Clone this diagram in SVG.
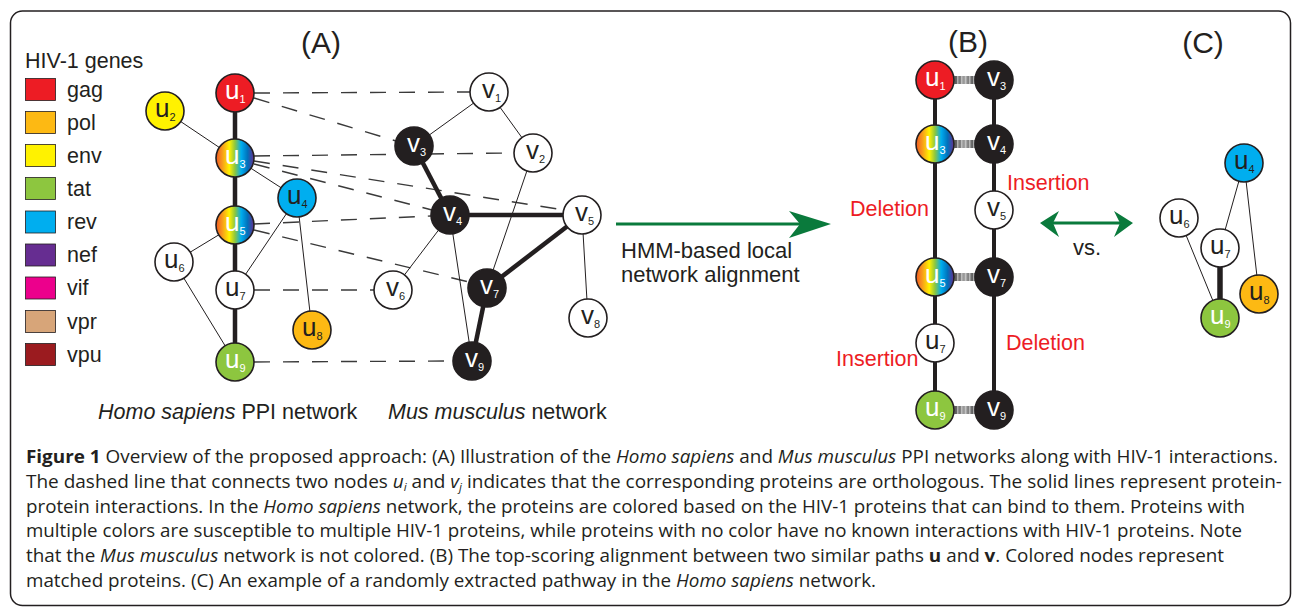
<svg xmlns="http://www.w3.org/2000/svg" width="1293" height="607" viewBox="0 0 1293 607">
<style>
.t{font-family:"Liberation Sans",Arial,Helvetica,sans-serif;fill:#231f20}
.f21{font-size:21.5px}
.red{fill:#ed1c24}
.n{stroke:#231f20;stroke-width:1.6}
.lbl{font-family:"Liberation Sans",Arial,Helvetica,sans-serif;font-size:26px}
.sub{font-size:11px}
.w{fill:#ffffff}
.k{fill:#231f20}
.thick{stroke:#231f20;stroke-width:4.5;fill:none}
.thin{stroke:#231f20;stroke-width:1;fill:none}
.dash{stroke:#3a3a3a;stroke-width:1.4;stroke-dasharray:16 13;fill:none}
.bthick{stroke:#231f20;stroke-width:4;fill:none}
.cap{font-family:"Open Sans","Noto Sans",sans-serif;font-size:18px;fill:#231f20}
.it{font-style:italic}
.bd{font-weight:bold}
.green{fill:#0a7a3c}
</style>
<defs>
<linearGradient id="rainbow" x1="0" y1="0" x2="1" y2="0">
<stop offset="0" stop-color="#f15a24"/>
<stop offset="0.15" stop-color="#f7941d"/>
<stop offset="0.35" stop-color="#fff200"/>
<stop offset="0.5" stop-color="#8dc63f"/>
<stop offset="0.66" stop-color="#00aeef"/>
<stop offset="0.83" stop-color="#0072bc"/>
<stop offset="1" stop-color="#662d91"/>
</linearGradient>
<linearGradient id="bar" x1="0" y1="0" x2="1" y2="0">
<stop offset="0" stop-color="#4a4a4a"/>
<stop offset="0.5" stop-color="#a0a0a0"/>
<stop offset="1" stop-color="#4a4a4a"/>
</linearGradient>
</defs>

<rect x="10.5" y="11" width="1280" height="594.5" rx="12" fill="none" stroke="#231f20" stroke-width="1.5"/>

<!-- legend -->
<g id="legend">
<text class="t f21" x="25" y="68">HIV-1 genes</text>
<rect x="25.5" y="78.5" width="30" height="22" fill="#ed1c24" stroke="#231f20" stroke-width="0.8"/>
<text class="t f21" x="67" y="96.5">gag</text>
<rect x="25.5" y="111.5" width="30" height="22" fill="#fdb913" stroke="#231f20" stroke-width="0.8"/>
<text class="t f21" x="67" y="129.5">pol</text>
<rect x="25.5" y="144.5" width="30" height="22" fill="#fff200" stroke="#231f20" stroke-width="0.8"/>
<text class="t f21" x="67" y="162.5">env</text>
<rect x="25.5" y="177.5" width="30" height="22" fill="#8dc63f" stroke="#231f20" stroke-width="0.8"/>
<text class="t f21" x="67" y="195.5">tat</text>
<rect x="25.5" y="211" width="30" height="22" fill="#00aeef" stroke="#231f20" stroke-width="0.8"/>
<text class="t f21" x="67" y="229">rev</text>
<rect x="25.5" y="244" width="30" height="22" fill="#662d91" stroke="#231f20" stroke-width="0.8"/>
<text class="t f21" x="67" y="262">nef</text>
<rect x="25.5" y="277" width="30" height="22" fill="#ec008c" stroke="#231f20" stroke-width="0.8"/>
<text class="t f21" x="67" y="295">vif</text>
<rect x="25.5" y="310.5" width="30" height="22" fill="#d7a579" stroke="#231f20" stroke-width="0.8"/>
<text class="t f21" x="67" y="328.5">vpr</text>
<rect x="25.5" y="343.5" width="30" height="22" fill="#9b1b1f" stroke="#231f20" stroke-width="0.8"/>
<text class="t f21" x="67" y="361.5">vpu</text>
</g>

<!-- panel titles and labels -->
<g id="labels">
<text class="t" font-size="30" x="321" y="53" text-anchor="middle">(A)</text>
<text class="t" font-size="30" x="968" y="52" text-anchor="middle">(B)</text>
<text class="t" font-size="30" x="1203" y="53" text-anchor="middle">(C)</text>
<text class="t f21" x="98" y="419"><tspan class="it">Homo sapiens</tspan> PPI network</text>
<text class="t f21" x="388" y="419"><tspan class="it">Mus musculus</tspan> network</text>
<text class="t" font-size="22" x="621" y="258">HMM-based local</text>
<text class="t" font-size="22" x="621" y="282">network alignment</text>
<text class="t" font-size="22" x="1073" y="255">vs.</text>
<text class="t f21 red" x="850" y="216">Deletion</text>
<text class="t f21 red" x="1007" y="190">Insertion</text>
<text class="t f21 red" x="836" y="366">Insertion</text>
<text class="t f21 red" x="1006" y="350">Deletion</text>
</g>

<!-- connectors -->
<g id="connectors">
<!-- A: orthology dashed -->
<line class="dash" x1="254" y1="93" x2="470" y2="92"/>
<line class="dash" x1="254" y1="98" x2="396" y2="141"/>
<line class="dash" x1="254" y1="156" x2="514" y2="153"/>
<line class="dash" x1="254" y1="161" x2="564" y2="210"/>
<line class="dash" x1="254" y1="164" x2="432" y2="210"/>
<line class="dash" x1="254" y1="224" x2="431" y2="216"/>
<line class="dash" x1="254" y1="230" x2="469" y2="282"/>
<line class="dash" x1="254" y1="290" x2="374" y2="290"/>
<line class="dash" x1="254" y1="362" x2="453" y2="361"/>
<!-- A: human PPI -->
<line class="thick" x1="235" y1="93" x2="235" y2="362"/>
<line class="thin" x1="165" y1="111" x2="235" y2="158"/>
<line class="thin" x1="235" y1="158" x2="297" y2="198"/>
<line class="thin" x1="297" y1="198" x2="235" y2="290"/>
<line class="thin" x1="297" y1="198" x2="312" y2="330"/>
<line class="thin" x1="235" y1="225" x2="174" y2="262"/>
<line class="thin" x1="174" y1="262" x2="235" y2="362"/>
<!-- A: mouse PPI -->
<line class="thin" x1="489" y1="92" x2="414" y2="146"/>
<line class="thin" x1="489" y1="92" x2="533" y2="153"/>
<line class="thin" x1="533" y1="153" x2="487" y2="288"/>
<line class="thin" x1="450" y1="215" x2="393" y2="290"/>
<line class="thin" x1="450" y1="215" x2="472" y2="361"/>
<line class="thin" x1="582" y1="215" x2="588" y2="318"/>
<line class="thick" x1="414" y1="146" x2="450" y2="215"/>
<line class="thick" x1="450" y1="215" x2="582" y2="215"/>
<line class="thick" x1="582" y1="215" x2="487" y2="288"/>
<line class="thick" x1="487" y1="288" x2="472" y2="361"/>
<!-- HMM arrow -->
<line x1="616" y1="224" x2="802" y2="224" stroke="#0a7a3c" stroke-width="3"/>
<path class="green" d="M831,224 L789,211 L800,224 L789,238 Z"/>
<!-- B: paths -->
<line class="bthick" x1="935" y1="80" x2="935" y2="410"/>
<line class="bthick" x1="994" y1="80" x2="994" y2="410"/>
<!-- B: matches -->
<g>
<rect x="953" y="76" width="23" height="8" fill="url(#bar)"/>
<line x1="953" y1="80" x2="976" y2="80" stroke="#e0e0e0" stroke-width="8" stroke-dasharray="1.5 2.5" stroke-opacity="0.6"/>
<rect x="953" y="140" width="23" height="8" fill="url(#bar)"/>
<line x1="953" y1="144" x2="976" y2="144" stroke="#e0e0e0" stroke-width="8" stroke-dasharray="1.5 2.5" stroke-opacity="0.6"/>
<rect x="953" y="273" width="23" height="8" fill="url(#bar)"/>
<line x1="953" y1="277" x2="976" y2="277" stroke="#e0e0e0" stroke-width="8" stroke-dasharray="1.5 2.5" stroke-opacity="0.6"/>
<rect x="953" y="406" width="23" height="8" fill="url(#bar)"/>
<line x1="953" y1="410" x2="976" y2="410" stroke="#e0e0e0" stroke-width="8" stroke-dasharray="1.5 2.5" stroke-opacity="0.6"/>
</g>
<!-- double arrow -->
<line x1="1052" y1="223" x2="1120" y2="223" stroke="#0a7a3c" stroke-width="3"/>
<path class="green" d="M1040,223 L1059,211 L1053,223 L1059,237 Z"/>
<path class="green" d="M1133,223 L1114,211 L1120,223 L1114,237 Z"/>
<!-- C -->
<line class="thin" x1="1244" y1="163" x2="1220" y2="248"/>
<line class="thin" x1="1244" y1="163" x2="1259" y2="294"/>
<line class="thin" x1="1179" y1="218" x2="1220" y2="318"/>
<line x1="1220" y1="248" x2="1220" y2="318" stroke="#231f20" stroke-width="5.5"/>
</g>

<!-- A nodes -->
<g id="A-u1"><circle class="n" cx="235" cy="93" r="19" fill="#ed1c24"/><text class="lbl w" x="225" y="98.5">u<tspan class="sub" dy="4">1</tspan></text></g>
<g id="A-u2"><circle class="n" cx="165" cy="111" r="19" fill="#fff200"/><text class="lbl k" x="155" y="116.5">u<tspan class="sub" dy="4">2</tspan></text></g>
<g id="A-u3"><circle class="n" cx="235" cy="158" r="19" fill="url(#rainbow)"/><text class="lbl w" x="225" y="163.5">u<tspan class="sub" dy="4">3</tspan></text></g>
<g id="A-u4"><circle class="n" cx="297" cy="198" r="19" fill="#00aeef"/><text class="lbl k" x="287" y="203.5">u<tspan class="sub" dy="4">4</tspan></text></g>
<g id="A-u5"><circle class="n" cx="235" cy="225" r="19" fill="url(#rainbow)"/><text class="lbl w" x="225" y="230.5">u<tspan class="sub" dy="4">5</tspan></text></g>
<g id="A-u6"><circle class="n" cx="174" cy="262" r="19" fill="#fff"/><text class="lbl k" x="164" y="267.5">u<tspan class="sub" dy="4">6</tspan></text></g>
<g id="A-u7"><circle class="n" cx="235" cy="290" r="19" fill="#fff"/><text class="lbl k" x="225" y="295.5">u<tspan class="sub" dy="4">7</tspan></text></g>
<g id="A-u8"><circle class="n" cx="312" cy="330" r="19" fill="#fdb913"/><text class="lbl k" x="302" y="335.5">u<tspan class="sub" dy="4">8</tspan></text></g>
<g id="A-u9"><circle class="n" cx="235" cy="362" r="19" fill="#8dc63f"/><text class="lbl w" x="225" y="367.5">u<tspan class="sub" dy="4">9</tspan></text></g>
<g id="A-v1"><circle class="n" cx="489" cy="92" r="19" fill="#fff"/><text class="lbl k" x="482" y="97.5">v<tspan class="sub" dy="4">1</tspan></text></g>
<g id="A-v2"><circle class="n" cx="533" cy="153" r="19" fill="#fff"/><text class="lbl k" x="526" y="158.5">v<tspan class="sub" dy="4">2</tspan></text></g>
<g id="A-v3"><circle class="n" cx="414" cy="146" r="19" fill="#231f20"/><text class="lbl w" x="407" y="151.5">v<tspan class="sub" dy="4">3</tspan></text></g>
<g id="A-v4"><circle class="n" cx="450" cy="215" r="19" fill="#231f20"/><text class="lbl w" x="443" y="220.5">v<tspan class="sub" dy="4">4</tspan></text></g>
<g id="A-v5"><circle class="n" cx="582" cy="215" r="19" fill="#fff"/><text class="lbl k" x="575" y="220.5">v<tspan class="sub" dy="4">5</tspan></text></g>
<g id="A-v6"><circle class="n" cx="393" cy="290" r="19" fill="#fff"/><text class="lbl k" x="386" y="295.5">v<tspan class="sub" dy="4">6</tspan></text></g>
<g id="A-v7"><circle class="n" cx="487" cy="288" r="19" fill="#231f20"/><text class="lbl w" x="480" y="293.5">v<tspan class="sub" dy="4">7</tspan></text></g>
<g id="A-v8"><circle class="n" cx="588" cy="318" r="19" fill="#fff"/><text class="lbl k" x="581" y="323.5">v<tspan class="sub" dy="4">8</tspan></text></g>
<g id="A-v9"><circle class="n" cx="472" cy="361" r="19" fill="#231f20"/><text class="lbl w" x="465" y="366.5">v<tspan class="sub" dy="4">9</tspan></text></g>

<!-- B nodes -->
<g id="B-u1"><circle class="n" cx="935" cy="80" r="19" fill="#ed1c24"/><text class="lbl w" x="925" y="85.5">u<tspan class="sub" dy="4">1</tspan></text></g>
<g id="B-v3"><circle class="n" cx="994" cy="80" r="19" fill="#231f20"/><text class="lbl w" x="987" y="85.5">v<tspan class="sub" dy="4">3</tspan></text></g>
<g id="B-u3"><circle class="n" cx="935" cy="144" r="19" fill="url(#rainbow)"/><text class="lbl w" x="925" y="149.5">u<tspan class="sub" dy="4">3</tspan></text></g>
<g id="B-v4"><circle class="n" cx="994" cy="144" r="19" fill="#231f20"/><text class="lbl w" x="987" y="149.5">v<tspan class="sub" dy="4">4</tspan></text></g>
<g id="B-v5"><circle class="n" cx="994" cy="210" r="19" fill="#fff"/><text class="lbl k" x="987" y="215.5">v<tspan class="sub" dy="4">5</tspan></text></g>
<g id="B-u5"><circle class="n" cx="935" cy="277" r="19" fill="url(#rainbow)"/><text class="lbl w" x="925" y="282.5">u<tspan class="sub" dy="4">5</tspan></text></g>
<g id="B-v7"><circle class="n" cx="994" cy="277" r="19" fill="#231f20"/><text class="lbl w" x="987" y="282.5">v<tspan class="sub" dy="4">7</tspan></text></g>
<g id="B-u7"><circle class="n" cx="935" cy="343" r="19" fill="#fff"/><text class="lbl k" x="925" y="348.5">u<tspan class="sub" dy="4">7</tspan></text></g>
<g id="B-u9"><circle class="n" cx="935" cy="410" r="19" fill="#8dc63f"/><text class="lbl w" x="925" y="415.5">u<tspan class="sub" dy="4">9</tspan></text></g>
<g id="B-v9"><circle class="n" cx="994" cy="410" r="19" fill="#231f20"/><text class="lbl w" x="987" y="415.5">v<tspan class="sub" dy="4">9</tspan></text></g>

<!-- C nodes -->
<g id="C-u4"><circle class="n" cx="1244" cy="163" r="19" fill="#00aeef"/><text class="lbl k" x="1234" y="168.5">u<tspan class="sub" dy="4">4</tspan></text></g>
<g id="C-u6"><circle class="n" cx="1179" cy="218" r="19" fill="#fff"/><text class="lbl k" x="1169" y="223.5">u<tspan class="sub" dy="4">6</tspan></text></g>
<g id="C-u7"><circle class="n" cx="1220" cy="248" r="19" fill="#fff"/><text class="lbl k" x="1210" y="253.5">u<tspan class="sub" dy="4">7</tspan></text></g>
<g id="C-u8"><circle class="n" cx="1259" cy="294" r="19" fill="#fdb913"/><text class="lbl k" x="1249" y="299.5">u<tspan class="sub" dy="4">8</tspan></text></g>
<g id="C-u9"><circle class="n" cx="1220" cy="318" r="19" fill="#8dc63f"/><text class="lbl w" x="1210" y="323.5">u<tspan class="sub" dy="4">9</tspan></text></g>

<!-- caption -->
<g id="caption">
<text class="cap" x="26" y="463" textLength="1252" lengthAdjust="spacingAndGlyphs"><tspan class="bd">Figure 1</tspan> Overview of the proposed approach: (A) Illustration of the <tspan class="it">Homo sapiens</tspan> and <tspan class="it">Mus musculus</tspan> PPI networks along with HIV-1 interactions.</text>
<text class="cap" x="26" y="488" textLength="1256" lengthAdjust="spacingAndGlyphs">The dashed line that connects two nodes <tspan class="it">u</tspan><tspan class="it" font-size="11" dy="3">i</tspan><tspan dy="-3"> and </tspan><tspan class="it">v</tspan><tspan class="it" font-size="11" dy="3">j</tspan><tspan dy="-3"> indicates that the corresponding proteins are orthologous. The solid lines represent protein-</tspan></text>
<text class="cap" x="26" y="513" textLength="1219" lengthAdjust="spacingAndGlyphs">protein interactions. In the <tspan class="it">Homo sapiens</tspan> network, the proteins are colored based on the HIV-1 proteins that can bind to them. Proteins with</text>
<text class="cap" x="26" y="537" textLength="1216" lengthAdjust="spacingAndGlyphs">multiple colors are susceptible to multiple HIV-1 proteins, while proteins with no color have no known interactions with HIV-1 proteins. Note</text>
<text class="cap" x="26" y="562" textLength="1198" lengthAdjust="spacingAndGlyphs">that the <tspan class="it">Mus musculus</tspan> network is not colored. (B) The top-scoring alignment between two similar paths <tspan class="bd">u</tspan> and <tspan class="bd">v</tspan>. Colored nodes represent</text>
<text class="cap" x="26" y="587" textLength="850" lengthAdjust="spacingAndGlyphs">matched proteins. (C) An example of a randomly extracted pathway in the <tspan class="it">Homo sapiens</tspan> network.</text>
</g>
</svg>
